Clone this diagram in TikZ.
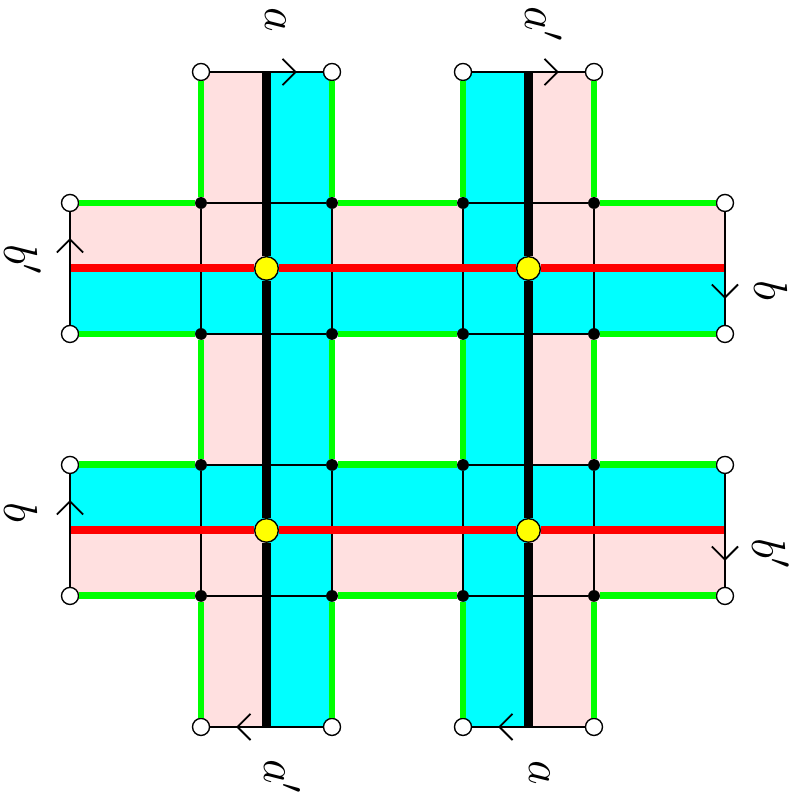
\documentclass[tikz,border=0pt]{standalone}
\usepackage{amsmath,amssymb}
\usetikzlibrary{calc,positioning,arrows.meta,decorations.markings}
\definecolor{bandpink}{RGB}{255,224,224}
\definecolor{bandcyan}{RGB}{0,255,255}
\definecolor{edgegreen}{RGB}{0,255,0}
\definecolor{corered}{RGB}{255,0,0}
\definecolor{dotyellow}{RGB}{255,255,0}
\tikzset{
  thinline/.style={draw=black,line width=0.8pt},
  greenline/.style={draw=edgegreen,line width=3pt},
  coreline/.style={draw=black,line width=3.5pt},
  redline/.style={draw=corered,line width=3.5pt},
  enddot/.style={circle,draw=black,fill=white,inner sep=0pt,minimum size=0.26cm,line width=0.6pt},
  crossdot/.style={circle,fill=black,inner sep=0pt,minimum size=0.18cm},
  middot/.style={circle,draw=black,fill=dotyellow,inner sep=0pt,minimum size=0.36cm,line width=0.6pt},
  gluearrow/.style={thinline,postaction={decorate},
    decoration={markings,mark=at position 0.77 with {\arrow{Straight Barb[length=2mm,width=4mm]}}}},
  edgelabel/.style={font=\huge,rotate=-90,inner sep=0pt},
}
\begin{document}
\begin{tikzpicture}
  \useasboundingbox (-1.069,-1.038) rectangle (11.115,11.099);
  % the two colours of each band
  \fill[bandpink] (2,0) rectangle (3,10) (7,0) rectangle (8,10)
                  (0,7) rectangle (10,8) (0,2) rectangle (10,3);
  \fill[bandcyan] (3,0) rectangle (4,10) (6,0) rectangle (7,10)
                  (0,6) rectangle (10,7) (0,3) rectangle (10,4);
  % free ends of the core lines
  \foreach \p in {3,7}{
    \coordinate (tm\p) at (\p,10); \coordinate (dm\p) at (\p,0);
    \coordinate (lm\p) at (0,\p);  \coordinate (rm\p) at (10,\p);}
  % corners
  \foreach \p in {2,4,6,8}{
    \node[enddot] (t\p) at (\p,10) {}; \node[enddot] (d\p) at (\p,0) {};
    \node[enddot] (l\p) at (0,\p) {};  \node[enddot] (r\p) at (10,\p) {};}
  \foreach \x in {2,4,6,8}{
    \foreach \y in {2,4,6,8}{
      \node[crossdot] (c\x\y) at (\x,\y) {};}}
  \foreach \x in {3,7}{
    \foreach \y in {3,7}{
      \node[middot] (y\x\y) at (\x,\y) {};}}
  % crossing squares
  \foreach \a/\b in {2/4,6/8}{
    \foreach \c/\d in {2/4,6/8}{
      \draw[thinline] (c\a\c) -- (c\b\c) -- (c\b\d) -- (c\a\d) -- (c\a\c);}}
  % green edges
  \foreach \p in {2,4,6,8}{
    \draw[greenline] (t\p) -- (c\p8) (c\p6) -- (c\p4) (c\p2) -- (d\p);
    \draw[greenline] (l\p) -- (c2\p) (c4\p) -- (c6\p) (c8\p) -- (r\p);}
  % core lines
  \foreach \p in {3,7}{
    \draw[coreline] (tm\p) -- (y\p7) -- (y\p3) -- (dm\p);
    \draw[redline] (lm\p) -- (y3\p) -- (y7\p) -- (rm\p);}
  % glued ends
  \draw[gluearrow] (t2) -- (t4);
  \draw[gluearrow] (t6) -- (t8);
  \draw[gluearrow] (d4) -- (d2);
  \draw[gluearrow] (d8) -- (d6);
  \draw[gluearrow] (l6) -- (l8);
  \draw[gluearrow] (l2) -- (l4);
  \draw[gluearrow] (r8) -- (r6);
  \draw[gluearrow] (r4) -- (r2);
  % labels
  \node[edgelabel] (lta) at (3.145,10.80) {$a$};
  \node[edgelabel] (ltb) at (7.23,10.73) {$a'$};
  \node[edgelabel] (lda) at (3.24,-0.76) {$a'$};
  \node[edgelabel] (ldb) at (7.17,-0.70) {$a$};
  \node[edgelabel] (lla) at (-0.72,7.14) {$b'$};
  \node[edgelabel] (llb) at (-0.74,3.28) {$b$};
  \node[edgelabel] (lra) at (10.70,6.67) {$b$};
  \node[edgelabel] (lrb) at (10.70,2.65) {$b'$};
\end{tikzpicture}
\end{document}
